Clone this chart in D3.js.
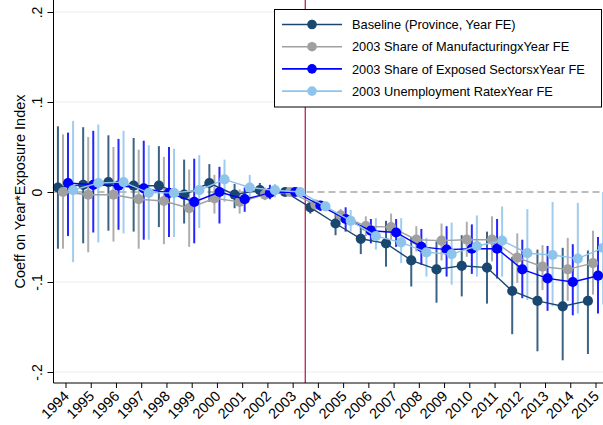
<!DOCTYPE html>
<html><head><meta charset="utf-8">
<script src="https://cdn.jsdelivr.net/npm/d3@7"></script>
<style>body{margin:0;background:#fff}svg{display:block;font-family:"Liberation Sans",Arial,Helvetica,sans-serif}</style>
</head><body><svg id="c" width="603" height="425"></svg>
<script>
const years = [1994,1995,1996,1997,1998,1999,2000,2001,2002,2003,2004,2005,2006,2007,2008,2009,2010,2011,2012,2013,2014,2015];
const seriesNames = ["Baseline (Province, Year FE)","2003 Share of ManufacturingxYear FE","2003 Share of Exposed SectorsxYear FE","2003 Unemployment RatexYear FE"];
const seriesColors = ["#1a476f","#a0a0a0","#0000ff","#8ec4ec"];
const seriesOffsets = [-0.3,-0.1,0.1,0.3];
const baseCoef = [0.005,0.008,0.011,0.007,0.007,-0.003,0.010,-0.003,0.002,0,-0.017,-0.035,-0.052,-0.057,-0.076,-0.086,-0.082,-0.084,-0.110,-0.121,-0.127,-0.121];
const baseHi   = [0.073,0.072,0.063,0.060,0.051,0.036,0.031,0.009,0.010,0,-0.011,-0.024,-0.037,-0.032,-0.050,-0.055,-0.048,-0.044,-0.072,-0.064,-0.062,-0.065];
const baseLo   = [-0.063,-0.057,-0.043,-0.044,-0.039,-0.035,-0.011,-0.018,-0.005,0,-0.024,-0.048,-0.069,-0.083,-0.105,-0.123,-0.116,-0.124,-0.158,-0.177,-0.187,-0.180];
const mfgCoef = [0.000,-0.003,-0.003,-0.008,-0.010,-0.018,-0.007,-0.011,-0.003,0,-0.014,-0.026,-0.038,-0.039,-0.053,-0.054,-0.053,-0.053,-0.073,-0.083,-0.086,-0.079];
const mfgHi   = [0.064,0.061,0.050,0.047,0.039,0.025,0.019,0.003,0.005,0,-0.009,-0.019,-0.027,-0.024,-0.038,-0.035,-0.033,-0.027,-0.046,-0.059,-0.051,-0.043];
const mfgLo   = [-0.063,-0.067,-0.055,-0.063,-0.058,-0.061,-0.024,-0.024,-0.009,0,-0.019,-0.033,-0.049,-0.053,-0.066,-0.076,-0.072,-0.077,-0.101,-0.109,-0.121,-0.114];
const expCoef = [0.010,0.008,0.007,0.004,-0.001,-0.011,0.000,-0.008,-0.001,0,-0.015,-0.030,-0.043,-0.045,-0.061,-0.064,-0.063,-0.063,-0.086,-0.096,-0.100,-0.093];
const expHi   = [0.066,0.068,0.059,0.057,0.050,0.037,0.028,0.005,0.008,0,-0.011,-0.017,-0.030,-0.030,-0.041,-0.038,-0.036,-0.030,-0.053,-0.060,-0.058,-0.050];
const expLo   = [-0.049,-0.045,-0.042,-0.053,-0.050,-0.057,-0.035,-0.022,-0.008,0,-0.021,-0.044,-0.057,-0.061,-0.081,-0.094,-0.091,-0.096,-0.118,-0.132,-0.137,-0.135];
const unCoef = [0.002,0.010,0.011,-0.001,-0.001,0.002,0.014,0.005,0.002,0,-0.016,-0.032,-0.049,-0.056,-0.067,-0.069,-0.060,-0.054,-0.068,-0.070,-0.074,-0.062];
const unHi   = [0.079,0.075,0.068,0.052,0.048,0.041,0.036,0.019,0.009,0,-0.011,-0.020,-0.029,-0.029,-0.051,-0.034,-0.026,-0.016,-0.019,-0.011,-0.012,0.000];
const unLo   = [-0.078,-0.056,-0.046,-0.053,-0.050,-0.040,-0.011,-0.009,-0.006,0,-0.021,-0.044,-0.064,-0.079,-0.094,-0.103,-0.094,-0.094,-0.120,-0.127,-0.135,-0.125];
const yTicks = [-0.2,-0.1,0,0.1,0.2];
const yTickLabels = ["-.2","-.1","0",".1",".2"];
const yTitle = "Coeff on Year*Exposure Index";
const eventLine = 2003.5;

const series = [
  {coef:baseCoef,hi:baseHi,lo:baseLo},
  {coef:mfgCoef,hi:mfgHi,lo:mfgLo},
  {coef:expCoef,hi:expHi,lo:expLo},
  {coef:unCoef,hi:unHi,lo:unLo}
].map((s,i)=>({...s,name:seriesNames[i],color:seriesColors[i],off:seriesOffsets[i]}));

const svg = d3.select("#c");
const pLeft = 53.5, pRight = 603, pTop = 0, pBottom = 383;
const x = d3.scaleLinear().domain([1994,2015]).range([65.5,595.5]);
const y = d3.scaleLinear().domain([-0.2,0.2]).range([372,12]);

// gridlines
svg.append("g").selectAll("line").data(yTicks.filter(v=>v!==0)).join("line")
  .attr("x1",pLeft).attr("x2",pRight).attr("y1",d=>y(d)).attr("y2",d=>y(d))
  .attr("stroke","#e6eef1").attr("stroke-width",1);

// zero dashed line
svg.append("line").attr("x1",pLeft).attr("x2",pRight).attr("y1",y(0)).attr("y2",y(0))
  .attr("stroke","#a8a8a8").attr("stroke-width",1.6).attr("stroke-dasharray","7,4");

// event line
svg.append("line").attr("x1",x(eventLine)).attr("x2",x(eventLine)).attr("y1",pTop).attr("y2",pBottom)
  .attr("stroke","#b5123b").attr("stroke-width",1.2);

const plot = svg.append("g");
series.forEach(s=>{
  const g = plot.append("g");
  g.selectAll("line").data(years.map((yr,i)=>({yr,hi:s.hi[i],lo:s.lo[i]}))).join("line")
    .attr("x1",d=>x(d.yr+s.off)).attr("x2",d=>x(d.yr+s.off))
    .attr("y1",d=>y(d.hi)).attr("y2",d=>y(d.lo))
    .attr("stroke",s.color).attr("stroke-width",2).attr("stroke-opacity",0.85);
});
series.forEach(s=>{
  const g = plot.append("g");
  const pts = years.map((yr,i)=>({yr,v:s.coef[i]}));
  g.append("path").datum(pts)
    .attr("d",d3.line().x(d=>x(d.yr+s.off)).y(d=>y(d.v)))
    .attr("fill","none").attr("stroke",s.color).attr("stroke-width",1.4);
  g.selectAll("circle").data(pts).join("circle")
    .attr("cx",d=>x(d.yr+s.off)).attr("cy",d=>y(d.v)).attr("r",5.1)
    .attr("fill",s.color);
});

// axes
const yAxis = svg.append("g").attr("transform",`translate(${pLeft},0)`)
  .call(d3.axisLeft(y).tickValues(yTicks).tickSize(6).tickFormat((d,i)=>yTickLabels[i]));
yAxis.select(".domain").attr("d",`M0,${pTop}V${pBottom}`).attr("stroke","#000");
yAxis.selectAll(".tick line").attr("stroke","#000");
yAxis.selectAll(".tick text").attr("font-size",14).attr("fill","#000")
  .attr("transform","rotate(-90)").attr("text-anchor","middle")
  .attr("x",0).attr("y",-12).attr("dy","0");

const xAxis = svg.append("g").attr("transform",`translate(0,${pBottom})`)
  .call(d3.axisBottom(x).tickValues(years).tickSize(5).tickFormat(d3.format("d")));
xAxis.select(".domain").attr("d",`M${pLeft},0H${pRight}`).attr("stroke","#000");
xAxis.selectAll(".tick line").attr("stroke","#000");
xAxis.selectAll(".tick text").attr("font-size",14.5).attr("fill","#000")
  .attr("text-anchor","end").attr("dy","0").attr("y",0)
  .attr("transform","translate(4,14) rotate(-45)");

// y title
svg.append("text").attr("transform",`translate(24.5,${(pTop+pBottom)/2}) rotate(-90)`)
  .attr("text-anchor","middle").attr("font-size",14.5).attr("fill","#000").text(yTitle);

// legend
const lg = svg.append("g");
lg.append("rect").attr("x",274.5).attr("y",9.5).attr("width",327).attr("height",97.5)
  .attr("fill","#fff").attr("stroke","#000").attr("stroke-width",1);
series.forEach((s,i)=>{
  const yy = 24.5 + i*22.2;
  lg.append("line").attr("x1",282).attr("x2",342).attr("y1",yy).attr("y2",yy)
    .attr("stroke",s.color).attr("stroke-width",1.6);
  lg.append("circle").attr("cx",312).attr("cy",yy).attr("r",4.8).attr("fill",s.color);
  lg.append("text").attr("x",352).attr("y",yy+4.6).attr("font-size",12.8).attr("fill","#000").text(s.name);
});
</script></body></html>
